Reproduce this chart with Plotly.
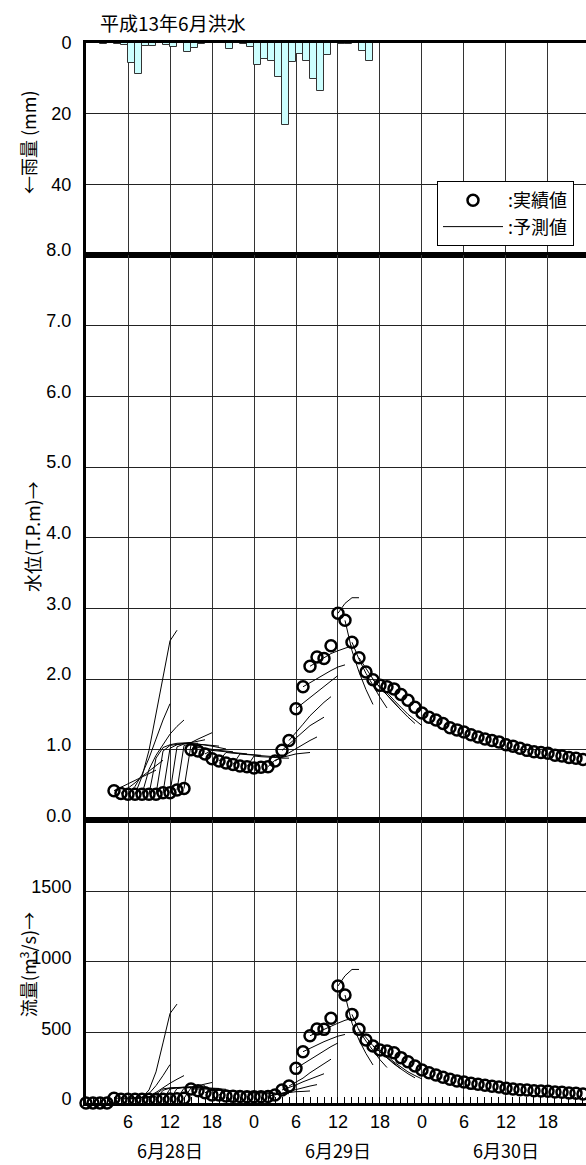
import plotly.graph_objects as go
from plotly.subplots import make_subplots

# ---------------- data ----------------
# hourly rainfall (hour index = start of the hour, 0 = 6/28 0:00)
rain_start = [2, 4, 5, 6, 7, 8, 9, 11, 12, 14, 15, 16, 20, 22, 23, 24, 25, 26, 27, 28,
              29, 30, 31, 32, 33, 34, 36, 37, 39, 40]
rain_mm = [0.2, 0.2, 0.5, 5.8, 8.9, 0.9, 0.9, 0.7, 1.0, 2.6, 1.3, 0.3, 1.7, 0.3, 1.0, 6.1,
           4.5, 5.0, 9.7, 23.1, 5.3, 3.1, 5.0, 10.1, 13.7, 3.4, 0.2, 0.4, 2.4, 5.0]

# observed water level (T.P.m)
wl_hours = list(range(4, 72))
wl_obs = [0.42, 0.38, 0.37, 0.37, 0.37, 0.37, 0.37, 0.39, 0.39, 0.43, 0.45,
          1.00, 0.98, 0.94, 0.87, 0.84, 0.81, 0.79, 0.77, 0.76, 0.74, 0.75, 0.76, 0.84,
          0.99, 1.13, 1.58, 1.89, 2.18, 2.31, 2.29, 2.47, 2.93, 2.83, 2.52, 2.30, 2.10,
          1.99, 1.91, 1.89, 1.86, 1.78, 1.70, 1.60, 1.52, 1.46, 1.42, 1.37, 1.31, 1.28,
          1.25, 1.21, 1.18, 1.15, 1.13, 1.11, 1.07, 1.05, 1.02, 0.99, 0.97, 0.96, 0.95,
          0.92, 0.91, 0.89, 0.88, 0.86]

# observed discharge (m3/s)
q_hours = list(range(0, 72))
q_obs = [0, 0, 0, 0, 33, 27, 26, 26, 26, 26, 26, 27, 28, 30, 33,
         99, 87, 73, 57, 57, 50, 47, 46, 45, 45, 45, 46, 57, 92, 120, 245, 363, 476,
         523, 521, 599, 828, 764, 627, 521, 446, 403, 375, 368, 356, 321, 292, 262,
         233, 214, 198, 182, 168, 156, 149, 139, 132, 125, 118, 113, 104, 99, 94, 92,
         87, 85, 83, 78, 76, 71, 69, 64]

# forecasts: start hour and hourly values from the start hour onward
fc_start = [4, 5, 6, 7, 8, 9, 10, 11, 12, 13, 14, 15, 17, 19, 21, 23,
            26, 27, 28, 29, 30, 31, 32, 36, 37, 38, 39, 41, 42]
wl_fc = [
    [0.42, 0.47, 0.52, 0.57, 0.62, 0.67, 0.71],
    [0.38, 0.45, 0.53, 0.62, 0.70, 0.78, 0.85],
    [0.37, 0.48, 0.65, 0.88, 1.15, 1.42, 1.65],
    [0.37, 0.62, 0.99, 1.50, 2.05, 2.54, 2.69],
    [0.37, 0.72, 0.92, 1.08, 1.22, 1.33, 1.42],
    [0.37, 0.88, 1.03, 1.07, 1.09, 1.10, 1.10],
    [0.37, 0.98, 1.06, 1.08, 1.09, 1.09, 1.09],
    [0.39, 1.02, 1.07, 1.08, 1.10, 1.12, 1.14],
    [0.39, 1.04, 1.08, 1.10, 1.15, 1.20, 1.24],
    [0.43, 1.06, 1.08, 1.08, 1.07, 1.06, 1.05],
    [0.45, 1.07, 1.08, 1.07, 1.05, 1.03, 1.01],
    [1.00, 1.03, 1.02, 1.00, 0.99, 0.98, 0.97],
    [0.94, 0.99, 0.98, 0.97, 0.96, 0.95, 0.94],
    [0.84, 0.96, 0.95, 0.94, 0.93, 0.92, 0.92],
    [0.79, 0.94, 0.93, 0.92, 0.91, 0.91, 0.90],
    [0.76, 0.91, 0.90, 0.90, 0.89, 0.88, 0.88],
    [0.76, 0.85, 0.89, 0.92, 0.94, 0.95, 0.96],
    [0.84, 0.90, 0.96, 1.02, 1.08, 1.13, 1.18],
    [0.99, 1.08, 1.17, 1.26, 1.34, 1.40, 1.46],
    [1.13, 1.24, 1.36, 1.48, 1.58, 1.67, 1.75],
    [1.58, 1.66, 1.74, 1.82, 1.90, 1.98, 2.05],
    [1.89, 1.95, 2.01, 2.07, 2.12, 2.17, 2.20],
    [2.18, 2.24, 2.30, 2.36, 2.40, 2.44, 2.47],
    [2.93, 3.07, 3.15, 3.15],
    [2.83, 2.40, 2.10, 1.85, 1.64],
    [2.52, 2.28, 2.08, 1.90, 1.74, 1.59],
    [2.30, 2.15, 2.00, 1.88, 1.77, 1.66, 1.56],
    [1.99, 1.88, 1.77, 1.66, 1.56, 1.46, 1.37],
    [1.91, 1.80, 1.70, 1.60, 1.50, 1.42, 1.34],
]
q_fc = [
    [33, 34, 36, 38, 39, 41, 43],
    [27, 33, 36, 39, 42, 49, 60],
    [26, 34, 40, 66, 123, 194, 272],
    [26, 39, 92, 220, 425, 633, 700],
    [26, 43, 75, 109, 140, 168, 194],
    [26, 66, 100, 107, 111, 112, 112],
    [26, 90, 105, 109, 111, 111, 111],
    [27, 99, 107, 109, 112, 117, 122],
    [28, 102, 109, 112, 123, 135, 145],
    [30, 105, 109, 109, 107, 105, 103],
    [33, 107, 109, 107, 103, 100, 97],
    [99, 100, 99, 95, 92, 90, 87],
    [73, 92, 90, 87, 85, 82, 80],
    [57, 85, 82, 80, 77, 75, 75],
    [47, 80, 77, 75, 72, 72, 70],
    [45, 72, 70, 70, 68, 66, 66],
    [46, 60, 68, 75, 80, 82, 85],
    [57, 70, 85, 99, 109, 120, 130],
    [92, 109, 128, 150, 170, 187, 207],
    [120, 145, 176, 214, 248, 280, 310],
    [245, 276, 306, 338, 370, 399, 425],
    [363, 388, 409, 434, 454, 473, 485],
    [476, 499, 520, 547, 565, 585, 599],
    [828, 900, 945, 945],
    [764, 565, 446, 350, 269],
    [627, 514, 438, 370, 306, 251],
    [521, 466, 405, 362, 318, 276, 241],
    [403, 362, 318, 276, 241, 207, 178],
    [375, 330, 290, 255, 220, 194, 170],
]

x_tickvals = [6, 12, 18, 24, 30, 36, 42, 48, 54, 60, 66]
x_ticktext = ["6", "12", "18", "0", "6", "12", "18", "0", "6", "12", "18"]
date_pos = [12, 36, 60]
date_labels = ["6月28日", "6月29日", "6月30日"]

rain_ticks = [0, 20, 40]
wl_ticks = [0, 1, 2, 3, 4, 5, 6, 7, 8]
q_ticks = [0, 500, 1000, 1500]

# ---------------- figure ----------------
JP = "Noto Sans CJK JP, Noto Sans, sans-serif"
NUM = "Liberation Sans, Arial, sans-serif"
FS = 18

fig = make_subplots(rows=3, cols=1, shared_xaxes=True, vertical_spacing=0,
                    row_heights=[3, 8, 4])

fig.add_trace(go.Bar(x=[h + 0.5 for h in rain_start], y=rain_mm, width=1,
                     marker=dict(color="#ccffff", line=dict(color="#333333", width=1)),
                     showlegend=False), row=1, col=1)

for i, (s, v) in enumerate(zip(fc_start, wl_fc)):
    fig.add_trace(go.Scatter(x=[s + k for k in range(len(v))], y=v, mode="lines",
                             line=dict(color="black", width=1),
                             name=":予測値", legendgroup="fc", legendrank=2,
                             showlegend=(i == 0)), row=2, col=1)
for s, v in zip(fc_start, q_fc):
    fig.add_trace(go.Scatter(x=[s + k for k in range(len(v))], y=v, mode="lines",
                             line=dict(color="black", width=1),
                             legendgroup="fc", showlegend=False), row=3, col=1)

marker = dict(symbol="circle-open", size=11, color="black", line=dict(width=2.5, color="black"))
fig.add_trace(go.Scatter(x=wl_hours, y=wl_obs, mode="markers", marker=marker,
                         name=":実績値", legendrank=1, cliponaxis=False), row=2, col=1)
fig.add_trace(go.Scatter(x=q_hours, y=q_obs, mode="markers", marker=marker,
                         showlegend=False, cliponaxis=False), row=3, col=1)

xcommon = dict(range=[0, 71.43], tickvals=x_tickvals, showgrid=True, gridcolor="#333333",
               gridwidth=1, showline=True, mirror=True, linewidth=3, linecolor="black",
               zeroline=False)
fig.update_xaxes(**xcommon)
fig.update_xaxes(showticklabels=False, ticks="", row=1, col=1)
fig.update_xaxes(showticklabels=False, ticks="", row=2, col=1)
fig.update_xaxes(ticktext=x_ticktext, showticklabels=True, ticks="inside", ticklen=6,
                 tickcolor="black", tickwidth=1,
                 minor=dict(ticks="inside", ticklen=6, dtick=1, tick0=0,
                            tickcolor="black", tickwidth=1, showgrid=False),
                 tickfont=dict(family=NUM, size=FS, color="black"), row=3, col=1)

ycommon = dict(showgrid=True, gridcolor="#222222", gridwidth=1, showline=True,
               linewidth=3, linecolor="black", zeroline=False, ticks="",
               tickfont=dict(family=NUM, size=FS, color="black"), ticklabelstandoff=8)
fig.update_yaxes(**ycommon)
fig.update_yaxes(range=[60, 0], tickvals=rain_ticks, row=1, col=1)
fig.update_yaxes(range=[0, 8], tickvals=wl_ticks, tickformat=".1f", ticklabelshift=-5,
                 row=2, col=1)
fig.update_yaxes(range=[0, 2000], tickvals=q_ticks, ticklabelshift=-4, row=3, col=1)

annos = [
    dict(text="平成13年6月洪水", x=0.024, y=1.0198, xref="paper", yref="paper",
         xanchor="left", yanchor="middle", showarrow=False,
         font=dict(family=JP, size=19, color="black")),
    dict(text="←雨量 (mm)", x=-0.116, y=0.9066, xref="paper", yref="paper",
         textangle=-90, xanchor="center", yanchor="middle", showarrow=False,
         font=dict(family=JP, size=FS, color="black")),
    dict(text="水位(T.P.m)→", x=-0.108, y=0.534, xref="paper", yref="paper",
         textangle=-90, xanchor="center", yanchor="middle", showarrow=False,
         font=dict(family=JP, size=FS, color="black")),
    dict(text="流量(m<sup>3</sup>/s)→", x=-0.116, y=0.130, xref="paper", yref="paper",
         textangle=-90, xanchor="center", yanchor="middle", showarrow=False,
         font=dict(family=JP, size=FS, color="black")),
]
for p, t in zip(date_pos, date_labels):
    annos.append(dict(text=t, x=p, y=0, xref="x3", yref="paper", yanchor="middle",
                      yshift=-47, showarrow=False,
                      font=dict(family=JP, size=FS, color="black")))

fig.update_layout(
    width=586, height=1165,
    margin=dict(l=86, r=0, t=43, b=62),
    paper_bgcolor="white", plot_bgcolor="white",
    annotations=annos,
    bargap=0,
    legend=dict(x=0.976, y=0.8698, xanchor="right", yanchor="top", bgcolor="white",
                bordercolor="black", borderwidth=1, itemwidth=60,
                font=dict(family=JP, size=FS, color="black"), tracegroupgap=0),
    font=dict(family=JP, size=FS, color="black"),
)

fig.write_html("out.html")
